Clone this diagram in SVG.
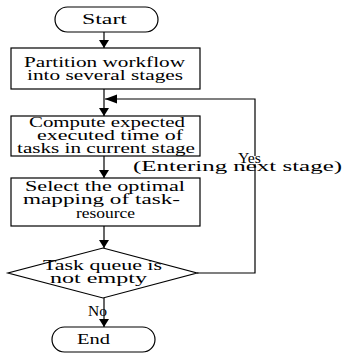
<svg xmlns="http://www.w3.org/2000/svg" width="343" height="355" viewBox="0 0 343 355">
  <style>
    .shape { fill: #ffffff; stroke: #000000; stroke-width: 1.2; }
    .label { font-family: 'Liberation Serif', 'DejaVu Serif', serif; font-size: 14px; fill: #000000; }
    .wire { fill: none; stroke: #000000; stroke-width: 1.2; }
  </style>
  <defs>
    <marker id="head" markerUnits="userSpaceOnUse" markerWidth="12" markerHeight="10" refX="8" refY="5" orient="auto">
      <path d="M0,0 L8,5 L0,10 z" fill="#000000"/>
    </marker>
    <marker id="headLong" markerUnits="userSpaceOnUse" markerWidth="14" markerHeight="10" refX="12" refY="4.5" orient="auto">
      <path d="M0,0 L12,4.5 L0,9 z" fill="#000000"/>
    </marker>
  </defs>

  <rect width="343" height="355" fill="#ffffff"/>

  <!-- connectors -->
  <g id="connectors">
    <line class="wire" x1="104" y1="32" x2="104" y2="48" marker-end="url(#head)"/>
    <line class="wire" x1="104" y1="89" x2="104" y2="116" marker-end="url(#head)"/>
    <line class="wire" x1="104" y1="156" x2="104" y2="178" marker-end="url(#head)"/>
    <line class="wire" x1="104" y1="226" x2="104" y2="248" marker-end="url(#head)"/>
    <line class="wire" x1="104" y1="298" x2="104" y2="327" marker-end="url(#head)"/>
    <polyline class="wire" points="197,273 255,273 255,99 105,99" marker-end="url(#headLong)"/>
    <rect x="239" y="156" width="22" height="8" fill="#ffffff"/>
    <text class="label" font-family="'Liberation Serif', 'DejaVu Serif', serif" x="238" y="163" textLength="23" lengthAdjust="spacingAndGlyphs">Yes</text>
    <text class="label" font-family="'Liberation Serif', 'DejaVu Serif', serif" x="133" y="171" textLength="209" lengthAdjust="spacingAndGlyphs">(Entering next stage)</text>
    <text class="label" font-family="'Liberation Serif', 'DejaVu Serif', serif" x="88" y="316" textLength="19" lengthAdjust="spacingAndGlyphs">No</text>
  </g>

  <!-- start terminal -->
  <g id="start">
    <rect class="shape" x="55" y="7" width="103" height="25" rx="12.5" ry="12.5"/>
    <text class="label" font-family="'Liberation Serif', 'DejaVu Serif', serif" x="82" y="24" textLength="45" lengthAdjust="spacingAndGlyphs">Start</text>
  </g>

  <!-- partition step -->
  <g id="partition">
    <rect class="shape" x="11" y="48" width="189" height="41"/>
    <text class="label" font-family="'Liberation Serif', 'DejaVu Serif', serif" x="24" y="67" textLength="161" lengthAdjust="spacingAndGlyphs">Partition workflow</text>
    <text class="label" font-family="'Liberation Serif', 'DejaVu Serif', serif" x="27" y="80" textLength="156" lengthAdjust="spacingAndGlyphs">into several stages</text>
  </g>

  <!-- compute step -->
  <g id="compute">
    <rect class="shape" x="11" y="116" width="189" height="40"/>
    <text class="label" font-family="'Liberation Serif', 'DejaVu Serif', serif" x="29" y="127" textLength="156" lengthAdjust="spacingAndGlyphs">Compute expected</text>
    <text class="label" font-family="'Liberation Serif', 'DejaVu Serif', serif" x="37" y="140" textLength="146" lengthAdjust="spacingAndGlyphs">executed time of</text>
    <text class="label" font-family="'Liberation Serif', 'DejaVu Serif', serif" x="17" y="153" textLength="178" lengthAdjust="spacingAndGlyphs">tasks in current stage</text>
  </g>

  <!-- select step -->
  <g id="select">
    <rect class="shape" x="11" y="178" width="189" height="48"/>
    <text class="label" font-family="'Liberation Serif', 'DejaVu Serif', serif" x="25" y="191" textLength="160" lengthAdjust="spacingAndGlyphs">Select the optimal</text>
    <text class="label" font-family="'Liberation Serif', 'DejaVu Serif', serif" x="23" y="204" textLength="157" lengthAdjust="spacingAndGlyphs">mapping of task-</text>
    <text class="label" font-family="'Liberation Serif', 'DejaVu Serif', serif" x="76" y="218" textLength="59" lengthAdjust="spacingAndGlyphs">resource</text>
  </g>

  <!-- decision -->
  <g id="decision">
    <polygon class="shape" points="103,248 197,273 103,298 8,273"/>
    <text class="label" font-family="'Liberation Serif', 'DejaVu Serif', serif" x="43" y="270" textLength="119" lengthAdjust="spacingAndGlyphs">Task queue is</text>
    <text class="label" font-family="'Liberation Serif', 'DejaVu Serif', serif" x="50" y="283" textLength="97" lengthAdjust="spacingAndGlyphs">not empty</text>
  </g>

  <!-- end terminal -->
  <g id="end">
    <rect class="shape" x="52" y="327" width="103" height="25" rx="12.5" ry="12.5"/>
    <text class="label" font-family="'Liberation Serif', 'DejaVu Serif', serif" x="77" y="344" textLength="33" lengthAdjust="spacingAndGlyphs">End</text>
  </g>
</svg>
